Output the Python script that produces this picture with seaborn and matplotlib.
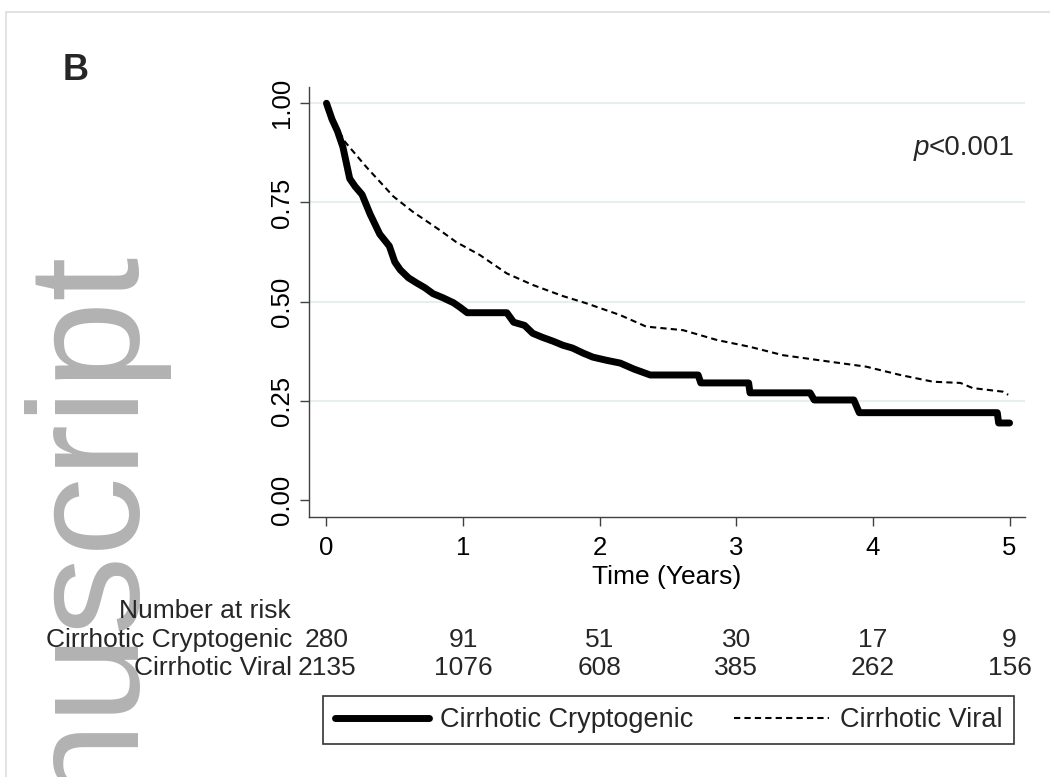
import numpy as np
import pandas as pd
import matplotlib
matplotlib.use("Agg")
import matplotlib.pyplot as plt
import seaborn as sns
from matplotlib.patches import Rectangle
from matplotlib.lines import Line2D

# ---- data ----
crypto_time = [0.00, 0.04, 0.08, 0.12, 0.17, 0.21, 0.26, 0.32, 0.39, 0.46, 0.50, 0.54,
               0.60, 0.66, 0.72, 0.78, 0.85, 0.93, 0.98, 1.03, 1.32, 1.37, 1.45, 1.51,
               1.58, 1.66, 1.73, 1.80, 1.88, 1.95, 2.05, 2.15, 2.25, 2.37, 2.72, 2.74,
               3.09, 3.10, 3.54, 3.57, 3.86, 3.90, 4.91, 4.92, 5.00]
crypto_surv = [1.000, 0.960, 0.930, 0.890, 0.810, 0.790, 0.770, 0.720, 0.670, 0.640, 0.600, 0.580,
               0.560, 0.547, 0.535, 0.520, 0.510, 0.497, 0.485, 0.472, 0.472, 0.448, 0.440, 0.420,
               0.410, 0.400, 0.390, 0.383, 0.370, 0.360, 0.352, 0.345, 0.330, 0.315, 0.315, 0.295,
               0.295, 0.270, 0.270, 0.252, 0.252, 0.220, 0.220, 0.194, 0.194]

viral_time = [0.00, 0.075, 0.135, 0.29, 0.49, 0.63, 0.83, 0.95, 1.12, 1.32, 1.51, 1.73,
              1.90, 2.15, 2.34, 2.61, 2.86, 3.10, 3.34, 3.59, 3.95, 4.20, 4.44, 4.64,
              4.73, 4.95, 4.99]
viral_surv = [1.000, 0.940, 0.903, 0.840, 0.765, 0.727, 0.680, 0.650, 0.618, 0.571, 0.542, 0.514,
              0.496, 0.466, 0.437, 0.428, 0.403, 0.386, 0.365, 0.353, 0.336, 0.315, 0.298, 0.295,
              0.282, 0.273, 0.265]

risk_times = [0, 1, 2, 3, 4, 5]
risk_crypto = [280, 91, 51, 30, 17, 9]
risk_viral = [2135, 1076, 608, 385, 262, 156]
group_names = ["Cirrhotic Cryptogenic", "Cirrhotic Viral"]
y_ticks = [0.00, 0.25, 0.50, 0.75, 1.00]
x_ticks = [0, 1, 2, 3, 4, 5]

df = pd.concat([
    pd.DataFrame({"time": crypto_time, "surv": crypto_surv, "group": group_names[0]}),
    pd.DataFrame({"time": viral_time, "surv": viral_surv, "group": group_names[1]}),
], ignore_index=True)

sns.set_theme(style="white")
plt.rcParams["font.family"] = ["Liberation Sans", "DejaVu Sans"]

W, H = 1050, 777
fig = plt.figure(figsize=(W / 100, H / 100), dpi=100)

def fx(px):
    return px / W

def fy(py):
    return 1 - py / H

ax = fig.add_axes([fx(309), fy(517), fx(1025) - fx(309), fy(87) - fy(517)])

sns.lineplot(data=df, x="time", y="surv", hue="group", style="group",
             hue_order=group_names, style_order=group_names,
             palette=["black", "black"], dashes=[(None, None), (3, 2)],
             sort=False, estimator=None, units="group", ax=ax, legend=False)
lines = ax.get_lines()
lines[0].set_linewidth(5.0)
lines[0].set_solid_joinstyle("round")
lines[0].set_solid_capstyle("round")
lines[0].set_zorder(4)
lines[1].set_linewidth(1.5)
lines[1].set_zorder(3)

ax.set_xlim(-0.128, 5.113)
ax.set_ylim(-0.043, 1.041)
ax.set_xticks(x_ticks)
ax.set_yticks(y_ticks)
ax.set_yticklabels([f"{v:.2f}" for v in y_ticks], rotation=90, va="center")
for v in y_ticks[1:]:
    ax.axhline(v, color="#e6eef0", lw=1.5, zorder=1)

for side in ["top", "right"]:
    ax.spines[side].set_visible(False)
for side in ["left", "bottom"]:
    ax.spines[side].set_color("#404040")
    ax.spines[side].set_linewidth(1.0)
ax.tick_params(axis="both", direction="out", length=6.5, width=1.0, color="#404040",
               labelsize=18.5, labelcolor="black", left=True, bottom=True)
ax.tick_params(axis="x", pad=7)
ax.tick_params(axis="y", pad=4)
ax.set_xlabel("Time (Years)", fontsize=19, labelpad=4, color="black")
ax.set_ylabel("")

fs = 19

# p-value with italic p
renderer = fig.canvas.get_renderer()
pv = fig.text(fx(1015), fy(148), "<0.001", fontsize=20, ha="right", va="center")
bb = pv.get_window_extent(renderer=renderer)
fig.text(bb.x0 / fig.bbox.width, fy(148), "p", fontsize=20, style="italic",
         ha="right", va="center")

# Number at risk table
fig.text(fx(291), fy(611), "Number at risk", fontsize=fs, ha="right", va="center", zorder=5)
for row_y, name, vals in [(640, group_names[0], risk_crypto), (668, group_names[1], risk_viral)]:
    fig.text(fx(292), fy(row_y), name, fontsize=fs, ha="right", va="center", zorder=5)
    for t, v in zip(risk_times, vals):
        xd = ax.transData.transform((t, 0))[0]
        fig.text(xd / fig.bbox.width, fy(row_y), str(v), fontsize=fs, ha="center",
                 va="center", zorder=5)

# Legend
handles = [Line2D([], [], color="black", lw=5.0),
           Line2D([], [], color="black", lw=1.5, dashes=(3, 2))]
leg = fig.legend(handles, group_names, loc="center", bbox_to_anchor=(fx(668.5), fy(720)),
                 ncol=2, fontsize=19.5, frameon=True, fancybox=False, handlelength=3.5,
                 handletextpad=0.4, columnspacing=1.5, borderpad=0.42)
leg.get_frame().set_edgecolor("black")
leg.get_frame().set_linewidth(1.2)

# Panel letter
fig.text(fx(63), fy(70), "B", fontsize=26, fontweight="bold", ha="left", va="center")

# Watermark
fig.text(fx(128), fy(246), "nuscript", fontsize=114, color="#b2b2b2", rotation=90,
         rotation_mode="anchor", ha="right", va="baseline", zorder=0)

# Page border
fig.patches.append(Rectangle((fx(6), fy(790)), fx(1100), fy(12) - fy(790),
                             transform=fig.transFigure, fill=False, edgecolor="#dddddd",
                             lw=1.2, zorder=0))

fig.savefig("out.png", dpi=100)
